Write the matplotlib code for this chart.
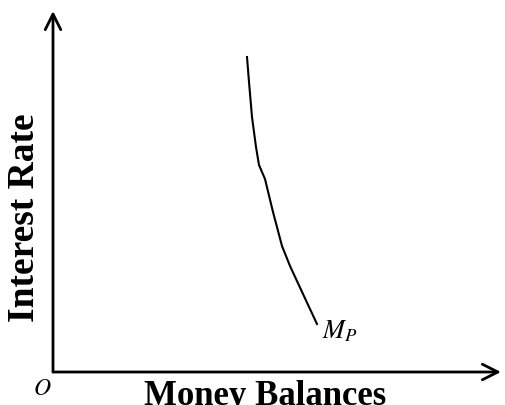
import matplotlib
matplotlib.use("Agg")
import matplotlib.pyplot as plt

# money demand curve, measured from the origin O (pixels-ish units)
money = [194, 196, 199, 203, 206, 212, 220, 229, 237, 250, 264]
rate = [315, 290, 255, 225, 207, 193, 160, 126, 106, 78, 48]

x_label = "Money Balances"
y_label = "Interest Rate"
curve_label = "$M_P$"
origin_label = "$O$"

plt.rcParams["mathtext.fontset"] = "stix"

fig = plt.figure(figsize=(5.05, 4.06), dpi=100)
ax = fig.add_axes([0, 0, 1, 1])
ox, oy = 53, 33  # origin offset inside the figure
ax.set_xlim(-ox, 505 - ox)
ax.set_ylim(-oy, 406 - oy)
ax.axis("off")

arrow = dict(arrowstyle="->", lw=2, color="black", mutation_scale=28,
             shrinkA=0, shrinkB=0)
ax.annotate("", xy=(448, 0), xytext=(0, 0), arrowprops=arrow)
ax.annotate("", xy=(0, 361), xytext=(0, 0), arrowprops=arrow)

ax.plot(money, rate, color="black", lw=1.5)

ax.text(-11, -15, origin_label, fontsize=17, ha="center", va="center")
ax.text(269, 42, curve_label, fontsize=19, ha="left", va="center")
ax.text(212, -24, x_label, fontsize=25, fontweight="bold",
        family="Liberation Serif", ha="center", va="center")
ax.text(-28, 155, y_label, fontsize=27, fontweight="bold", rotation=90,
        family="Liberation Serif", ha="center", va="center")

fig.savefig("out.png", dpi=100)
